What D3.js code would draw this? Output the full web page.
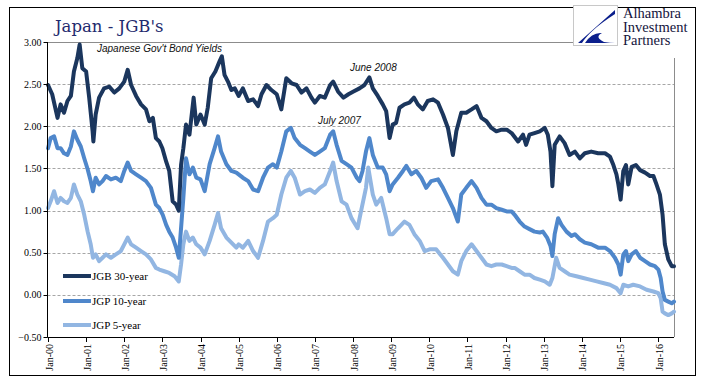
<!DOCTYPE html>
<meta charset='utf-8'>
<div class="CHANGE"></div>
<script src="https://d3js.org/d3.v7.min.js"></script>
<style>
	body { margin: 0; background: #fff; }
	.grid { stroke: #a6a6a6; stroke-width: 1px; stroke-dasharray: 3,2; }
	.tick-label { font-family: "Liberation Serif", "Times New Roman", serif; font-size: 10px; fill: #000; }
	.note { font-family: "Liberation Sans", Arial, sans-serif; font-style: italic; font-size: 10px; fill: #111; }
	.legend-label { font-family: "Liberation Serif", "Times New Roman", serif; font-size: 11px; fill: #000; }
	.series { fill: none; stroke-width: 4px; stroke-linejoin: round; stroke-linecap: round; }
</style>
<script>
	// series: [decimal year, yield %]
	var jgb30 = [[2000.00,2.49],[2000.11,2.38],[2000.25,2.10],[2000.33,2.26],[2000.42,2.16],[2000.51,2.30],[2000.60,2.36],[2000.68,2.65],[2000.77,2.81],[2000.83,2.97],[2000.90,2.69],[2001.00,2.65],[2001.08,2.34],[2001.17,1.94],[2001.19,1.82],[2001.25,2.14],[2001.34,2.34],[2001.47,2.45],[2001.61,2.47],[2001.74,2.40],[2001.87,2.45],[2002.00,2.53],[2002.09,2.67],[2002.18,2.49],[2002.31,2.36],[2002.44,2.26],[2002.57,2.20],[2002.66,2.06],[2002.75,2.10],[2002.83,1.86],[2002.92,1.82],[2003.00,1.74],[2003.10,1.58],[2003.18,1.47],[2003.27,1.11],[2003.36,1.07],[2003.43,1.00],[2003.49,1.54],[2003.55,1.74],[2003.62,2.02],[2003.71,1.90],[2003.82,2.34],[2003.89,2.02],
		[2004.00,2.14],[2004.11,2.02],[2004.19,2.22],[2004.28,2.57],[2004.39,2.65],[2004.50,2.77],[2004.56,2.83],[2004.63,2.61],[2004.72,2.53],[2004.81,2.43],[2004.90,2.45],[2005.00,2.36],[2005.11,2.45],[2005.25,2.30],[2005.38,2.32],[2005.51,2.24],[2005.60,2.38],[2005.73,2.49],[2005.86,2.43],[2006.00,2.38],[2006.12,2.20],[2006.25,2.57],[2006.39,2.51],[2006.52,2.49],[2006.65,2.40],[2006.78,2.45],[2006.91,2.34],[2007.00,2.28],[2007.13,2.36],[2007.26,2.34],[2007.40,2.49],[2007.48,2.53],[2007.61,2.41],[2007.75,2.34],[2007.88,2.38],[2008.00,2.41],
		[2008.17,2.45],[2008.30,2.49],[2008.43,2.58],[2008.52,2.45],[2008.65,2.36],[2008.78,2.26],[2008.87,2.18],[2008.96,1.86],[2009.04,2.02],[2009.13,2.04],[2009.22,2.22],[2009.35,2.26],[2009.48,2.28],[2009.60,2.34],[2009.70,2.26],[2009.83,2.20],[2009.96,2.30],[2010.10,2.32],[2010.23,2.28],[2010.36,2.14],[2010.49,1.98],[2010.62,1.66],[2010.71,1.94],[2010.84,2.16],[2010.97,2.16],[2011.11,2.20],[2011.24,2.24],[2011.37,2.10],[2011.50,2.06],[2011.63,1.98],[2011.76,1.94],[2011.90,1.96],[2012.03,1.96],[2012.16,1.92],
		[2012.33,1.82],[2012.46,1.90],[2012.54,1.78],[2012.63,1.90],[2012.76,1.92],[2012.90,1.94],[2013.03,1.98],[2013.11,1.90],[2013.18,1.70],[2013.23,1.29],[2013.29,1.78],[2013.42,1.88],[2013.55,1.80],[2013.68,1.66],[2013.82,1.70],[2013.95,1.62],[2014.08,1.68],[2014.25,1.70],[2014.43,1.68],[2014.61,1.68],[2014.74,1.64],[2014.83,1.54],[2014.91,1.43],[2014.96,1.31],[2015.02,1.13],[2015.09,1.47],[2015.16,1.54],[2015.22,1.31],[2015.31,1.52],[2015.42,1.54],[2015.53,1.48],[2015.66,1.45],[2015.79,1.41],[2015.88,1.41],[2015.96,1.31],[2016.05,1.19],[2016.12,0.95],[2016.18,0.60],[2016.27,0.42],[2016.36,0.34],[2016.42,0.34]];

	var jgp10 = [[2000.00,1.74],[2000.07,1.86],[2000.16,1.88],[2000.25,1.74],[2000.33,1.74],[2000.42,1.68],[2000.51,1.66],[2000.60,1.76],[2000.68,1.94],[2000.77,1.84],[2000.86,1.76],[2000.95,1.62],[2001.04,1.49],[2001.12,1.35],[2001.18,1.23],[2001.25,1.39],[2001.34,1.31],[2001.43,1.35],[2001.52,1.41],[2001.65,1.37],[2001.78,1.39],[2001.91,1.35],[2002.00,1.47],[2002.09,1.57],[2002.18,1.47],[2002.31,1.43],[2002.44,1.39],[2002.57,1.35],[2002.70,1.27],[2002.83,1.07],[2002.92,1.03],[2003.01,0.95],[2003.10,0.83],[2003.18,0.75],[2003.27,0.68],[2003.36,0.56],[2003.43,0.44],[2003.49,0.79],[2003.55,1.15],[2003.62,1.62],[2003.71,1.43],[2003.80,1.51],[2003.89,1.39],
		[2004.00,1.37],[2004.11,1.23],[2004.24,1.55],[2004.37,1.74],[2004.46,1.88],[2004.54,1.70],[2004.68,1.55],[2004.81,1.47],[2004.94,1.45],[2005.11,1.39],[2005.25,1.35],[2005.38,1.25],[2005.51,1.23],[2005.64,1.39],[2005.77,1.51],[2005.90,1.55],[2006.00,1.51],[2006.12,1.70],[2006.25,1.94],[2006.37,1.98],[2006.47,1.86],[2006.61,1.78],[2006.74,1.74],[2006.87,1.70],[2007.00,1.66],[2007.13,1.70],[2007.26,1.74],[2007.40,1.90],[2007.48,1.94],[2007.57,1.78],[2007.70,1.59],[2007.83,1.55],[2007.96,1.51],[2008.10,1.39],
		[2008.17,1.35],[2008.25,1.47],[2008.34,1.70],[2008.43,1.86],[2008.52,1.66],[2008.65,1.51],[2008.78,1.51],[2008.87,1.43],[2008.96,1.23],[2009.04,1.31],[2009.18,1.39],[2009.31,1.47],[2009.40,1.53],[2009.53,1.43],[2009.66,1.47],[2009.79,1.39],[2009.92,1.27],[2010.05,1.35],[2010.23,1.37],[2010.36,1.27],[2010.49,1.15],[2010.62,1.03],[2010.75,0.87],[2010.84,1.19],[2010.97,1.27],[2011.11,1.35],[2011.24,1.27],[2011.37,1.15],[2011.50,1.07],[2011.63,1.07],[2011.76,1.03],[2011.90,1.01],[2012.03,0.99],[2012.16,0.99],
		[2012.24,0.95],[2012.37,0.87],[2012.50,0.81],[2012.63,0.78],[2012.76,0.75],[2012.90,0.74],[2012.98,0.75],[2013.09,0.68],[2013.18,0.58],[2013.23,0.46],[2013.29,0.72],[2013.38,0.91],[2013.47,0.83],[2013.60,0.75],[2013.73,0.70],[2013.82,0.72],[2013.95,0.66],[2014.08,0.62],[2014.25,0.60],[2014.43,0.56],[2014.61,0.56],[2014.74,0.52],[2014.87,0.44],[2014.96,0.36],[2015.02,0.24],[2015.09,0.48],[2015.16,0.52],[2015.22,0.40],[2015.31,0.48],[2015.42,0.52],[2015.53,0.44],[2015.66,0.40],[2015.79,0.36],[2015.92,0.34],[2016.01,0.30],[2016.07,0.20],[2016.12,0.04],[2016.18,-0.06],[2016.27,-0.08],[2016.36,-0.10],[2016.42,-0.08]];

	var jgp5 = [[2000.00,1.03],[2000.07,1.11],[2000.16,1.23],[2000.25,1.09],[2000.33,1.15],[2000.42,1.11],[2000.51,1.09],[2000.60,1.15],[2000.68,1.31],[2000.77,1.19],[2000.86,1.11],[2000.95,0.95],[2001.04,0.75],[2001.12,0.60],[2001.18,0.44],[2001.25,0.48],[2001.34,0.40],[2001.43,0.44],[2001.52,0.48],[2001.65,0.44],[2001.78,0.48],[2001.91,0.52],[2002.00,0.60],[2002.09,0.68],[2002.18,0.60],[2002.31,0.56],[2002.44,0.52],[2002.57,0.48],[2002.70,0.42],[2002.83,0.32],[2002.92,0.30],[2003.05,0.28],[2003.18,0.26],[2003.32,0.22],[2003.43,0.16],[2003.49,0.36],[2003.55,0.60],[2003.62,0.75],[2003.71,0.64],[2003.80,0.68],[2003.89,0.60],
		[2004.00,0.56],[2004.11,0.48],[2004.24,0.64],[2004.37,0.83],[2004.46,0.97],[2004.54,0.79],[2004.68,0.68],[2004.81,0.62],[2004.94,0.56],[2005.00,0.60],[2005.11,0.56],[2005.25,0.64],[2005.38,0.52],[2005.51,0.44],[2005.64,0.64],[2005.77,0.87],[2005.90,0.91],[2006.00,0.95],[2006.12,1.19],[2006.25,1.39],[2006.37,1.47],[2006.47,1.39],[2006.61,1.19],[2006.74,1.23],[2006.87,1.25],[2007.00,1.21],[2007.13,1.27],[2007.26,1.31],[2007.40,1.47],[2007.48,1.57],[2007.57,1.35],[2007.70,1.11],[2007.83,1.07],[2007.96,0.91],
		[2008.04,0.85],[2008.12,0.79],[2008.21,0.99],[2008.34,1.27],[2008.40,1.51],[2008.52,1.19],[2008.61,1.07],[2008.74,1.15],[2008.87,0.91],[2008.96,0.72],[2009.04,0.72],[2009.18,0.79],[2009.35,0.87],[2009.48,0.83],[2009.61,0.72],[2009.75,0.64],[2009.88,0.52],[2010.01,0.54],[2010.18,0.54],[2010.36,0.44],[2010.49,0.36],[2010.62,0.28],[2010.75,0.24],[2010.84,0.40],[2010.97,0.52],[2011.11,0.60],[2011.24,0.52],[2011.37,0.44],[2011.50,0.36],[2011.63,0.34],[2011.76,0.36],[2011.90,0.36],[2012.03,0.34],[2012.16,0.32],
		[2012.24,0.32],[2012.37,0.28],[2012.50,0.24],[2012.63,0.24],[2012.76,0.20],[2012.90,0.18],[2013.03,0.16],[2013.16,0.12],[2013.23,0.20],[2013.33,0.44],[2013.42,0.32],[2013.55,0.28],[2013.68,0.24],[2013.86,0.22],[2014.04,0.20],[2014.21,0.18],[2014.39,0.16],[2014.56,0.14],[2014.74,0.12],[2014.91,0.08],[2015.02,0.02],[2015.09,0.12],[2015.22,0.10],[2015.35,0.12],[2015.53,0.10],[2015.70,0.06],[2015.88,0.04],[2016.01,0.02],[2016.07,-0.04],[2016.12,-0.20],[2016.18,-0.22],[2016.27,-0.24],[2016.36,-0.22],[2016.42,-0.20]];

	var seriesNames = ["JGB 30-year", "JGP 10-year", "JGP 5-year"];
	var seriesColors = ["#1b365d", "#4f87cb", "#92b6e2"];
	var yTicks = [-0.5, 0, 0.5, 1, 1.5, 2, 2.5, 3];
	var xYears = d3.range(2000, 2017);

	var width = 705, height = 381;
	var svg = d3.select(".CHANGE")
				.append("svg")
				.attr("width", width)
				.attr("height", height);

	// plot edges (window.top is reserved, so prefixed names)
	var pLeft = 47.5, pRight = 674, pTop = 42, pBottom = 337;
	var x = d3.scaleLinear().domain([2000, 2016]).range([48, 658]);
	var y = d3.scaleLinear().domain([-0.5, 3]).range([pBottom, pTop]);

	// outer frame
	svg.append("rect")
		.attr("x", 9.5).attr("y", 7.5)
		.attr("width", 686).attr("height", 368)
		.attr("fill", "none").attr("stroke", "#000").attr("stroke-width", 1);

	// gridlines
	svg.append("g").selectAll("line")
		.data(yTicks.filter(function(d) { return d > -0.5 && d < 3; }))
		.enter().append("line")
		.attr("class", "grid")
		.attr("x1", pLeft).attr("x2", pRight)
		.attr("y1", function(d) { return Math.round(y(d)) + 0.5; })
		.attr("y2", function(d) { return Math.round(y(d)) + 0.5; });

	// top and right border of plot
	svg.append("line").attr("x1", pLeft).attr("x2", 573).attr("y1", pTop + 0.5).attr("y2", pTop + 0.5)
		.attr("stroke", "#8c8c8c");
	svg.append("line").attr("x1", pRight + 0.5).attr("x2", pRight + 0.5).attr("y1", 58).attr("y2", pBottom)
		.attr("stroke", "#8c8c8c");

	// lines
	var line = d3.line()
		.x(function(d) { return x(d[0]); })
		.y(function(d) { return y(d[1]); });
	var allSeries = [jgb30, jgp10, jgp5];
	svg.append("g").selectAll("path")
		.data([2, 1, 0])
		.enter().append("path")
		.attr("class", "series")
		.attr("stroke", function(i) { return seriesColors[i]; })
		.attr("d", function(i) { return line(allSeries[i]); });

	// y axis
	var yAxis = svg.append("g");
	yAxis.append("line").attr("x1", pLeft).attr("x2", pLeft).attr("y1", pTop).attr("y2", pBottom + 0.5).attr("stroke", "#000");
	yAxis.selectAll(".yt").data(yTicks).enter().append("line")
		.attr("x1", pLeft - 4).attr("x2", pLeft)
		.attr("y1", function(d) { return Math.round(y(d)) + 0.5; })
		.attr("y2", function(d) { return Math.round(y(d)) + 0.5; })
		.attr("stroke", "#000");
	yAxis.selectAll("text").data(yTicks).enter().append("text")
		.attr("class", "tick-label")
		.attr("x", pLeft - 6)
		.attr("y", function(d) { return y(d); })
		.attr("dy", "0.35em")
		.attr("text-anchor", "end")
		.text(function(d) { return d3.format(".2f")(d); });

	// x axis
	var xAxis = svg.append("g");
	xAxis.append("line").attr("x1", pLeft).attr("x2", pRight).attr("y1", pBottom + 0.5).attr("y2", pBottom + 0.5).attr("stroke", "#000");
	xAxis.selectAll(".xt").data(xYears).enter().append("line")
		.attr("x1", function(d) { return Math.round(x(d)) + 0.5; })
		.attr("x2", function(d) { return Math.round(x(d)) + 0.5; })
		.attr("y1", pBottom).attr("y2", pBottom + 5)
		.attr("stroke", "#000");
	xAxis.selectAll("text").data(xYears).enter().append("text")
		.attr("class", "tick-label")
		.attr("transform", function(d) { return "translate(" + (x(d) + 1) + "," + (pBottom + 7) + ") rotate(-90)"; })
		.attr("dy", "0.35em")
		.attr("text-anchor", "end")
		.text(function(d) { return "Jan-" + String(d % 100).padStart(2, "0"); });

	// legend
	var legend = svg.append("g");
	var legendY = [276, 301, 325];
	seriesNames.forEach(function(name, i) {
		legend.append("line")
			.attr("x1", 63).attr("x2", 91)
			.attr("y1", legendY[i]).attr("y2", legendY[i])
			.attr("stroke", seriesColors[i]).attr("stroke-width", 4);
		legend.append("text")
			.attr("class", "legend-label")
			.attr("x", 92).attr("y", legendY[i])
			.attr("dy", "0.35em")
			.text(name);
	});

	// title and notes
	svg.append("text")
		.attr("x", 55).attr("y", 32)
		.attr("font-family", "'DejaVu Serif', Georgia, serif")
		.attr("font-size", "16.5px")
		.attr("fill", "#1f2a6e")
		.text("Japan - JGB's");
	svg.append("text").attr("class", "note").attr("x", 97).attr("y", 52).text("Japanese Gov't Bond Yields");
	svg.append("text").attr("class", "note").attr("x", 350).attr("y", 71).text("June 2008");
	svg.append("text").attr("class", "note").attr("x", 318).attr("y", 124).text("July 2007");

	// logo
	var logo = svg.append("g");
	logo.append("rect").attr("x", 573.5).attr("y", 5.5).attr("width", 44).attr("height", 40)
		.attr("fill", "#fff").attr("stroke", "#c8c8c8");
	logo.append("path")
		.attr("d", "M615,10 L578,43 L582,43 Q590,30 615,14 Z")
		.attr("fill", "#0b1f8c");
	logo.append("path")
		.attr("d", "M585,43 Q592,32 602,33 Q594,37 604,42 Q610,43 615,43 Z")
		.attr("fill", "#0b1f8c");
	var logoText = ["Alhambra", "Investment", "Partners"];
	logo.selectAll(".lt").data(logoText).enter().append("text")
		.attr("x", 623)
		.attr("y", function(d, i) { return 18 + i * 13.5; })
		.attr("font-family", "'Liberation Serif', 'Times New Roman', serif")
		.attr("font-size", "14.5px")
		.attr("fill", "#14143c")
		.text(function(d) { return d; });
</script>
